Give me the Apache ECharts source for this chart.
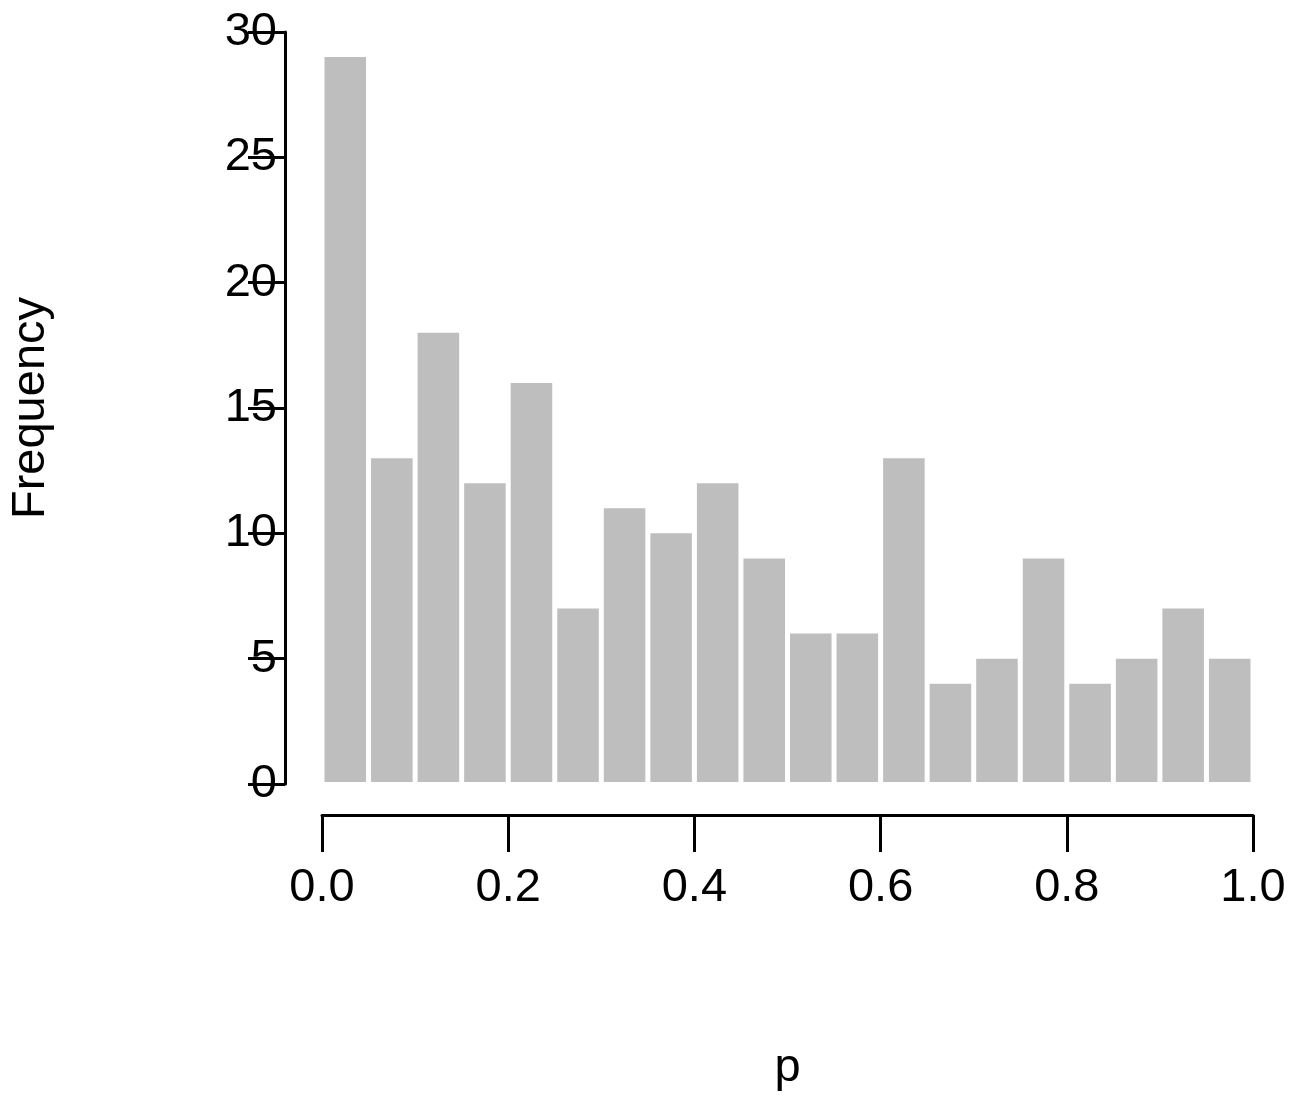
<!DOCTYPE html>
<html><head><meta charset="utf-8">
<script src="https://cdn.jsdelivr.net/npm/echarts@6/dist/echarts.min.js"></script>
<style>html,body{margin:0;padding:0;background:#fff}#c{width:1300px;height:1110px}</style>
</head><body><div id="c"></div>
<script>
const binStarts = [0,0.05,0.1,0.15,0.2,0.25,0.3,0.35,0.4,0.45,0.5,0.55,0.6,0.65,0.7,0.75,0.8,0.85,0.9,0.95];
const binWidth = 0.05;
const counts = [29,13,18,12,16,7,11,10,12,9,6,6,13,4,5,9,4,5,7,5];
const xTicks = ['0.0','0.2','0.4','0.6','0.8','1.0'];
const yTicks = [0,5,10,15,20,25,30];
const chart = echarts.init(document.getElementById('c'));
const font = 'Liberation Sans, Arial, sans-serif';
chart.setOption({
  animation:false,
  grid:{left:322,right:47,top:32,bottom:326,containLabel:false,outerBoundsMode:'none'},
  xAxis:{type:'value',min:0,max:1,interval:0.2,offset:31,
    axisLine:{onZero:false,lineStyle:{color:'#000',width:3}},
    axisTick:{length:37,inside:false,lineStyle:{color:'#000',width:3}},
    axisLabel:{fontSize:47,color:'#000',fontFamily:font,margin:50,formatter:v=>xTicks[Math.round(v/0.2)]},
    splitLine:{show:false},
    name:'p',nameLocation:'middle',nameGap:230,nameTextStyle:{fontSize:47,color:'#000',fontFamily:font}},
  yAxis:{type:'value',min:0,max:30,interval:5,offset:37,
    axisLine:{show:true,onZero:false,lineStyle:{color:'#000',width:3}},
    axisTick:{show:true,length:37,lineStyle:{color:'#000',width:3}},
    axisLabel:{fontSize:47,color:'#000',fontFamily:font,margin:8,formatter:v=>String(v)},
    splitLine:{show:false},
    name:'Frequency',nameLocation:'middle',nameGap:230,nameRotate:90,nameTextStyle:{fontSize:47,color:'#000',fontFamily:font}},
  series:[{type:'custom',
    data:binStarts.map((s,i)=>[s,s+binWidth,counts[i]]),
    encode:{x:[0,1],y:2},
    renderItem:(params,api)=>{
      const p0=api.coord([api.value(0),api.value(2)]);
      const p1=api.coord([api.value(1),0]);
      return {type:'rect',shape:{x:p0[0]+2.5,y:p0[1],width:p1[0]-p0[0]-5,height:p1[1]-p0[1]-2},
        style:{fill:'#bebebe'}};
    }}]
});
</script></body></html>
